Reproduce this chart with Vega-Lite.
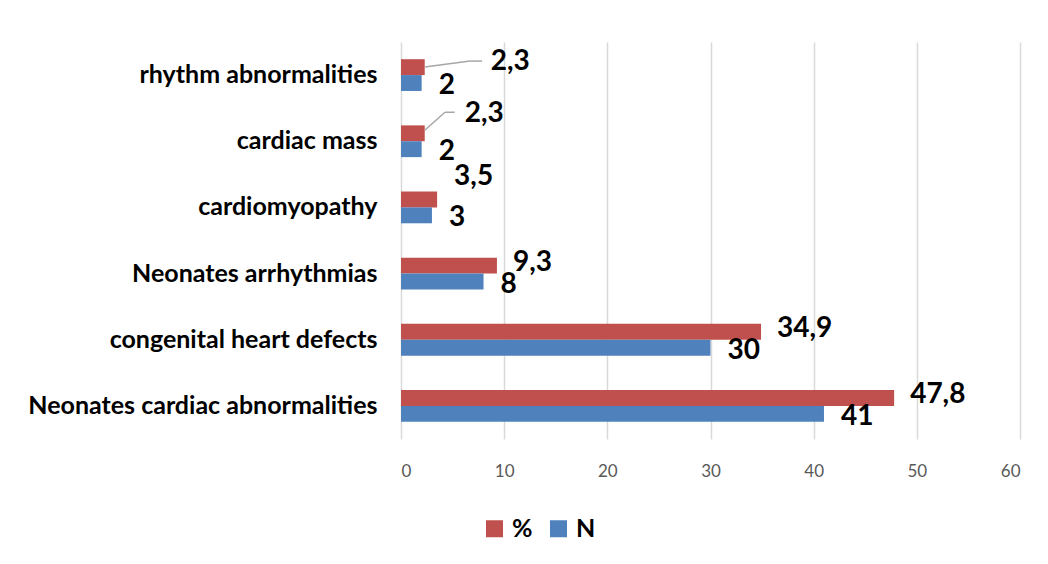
{
  "$schema": "https://vega.github.io/schema/vega-lite/v6.json",
  "width": 619,
  "height": 397,
  "autosize": {"type": "none"},
  "padding": {"left": 401, "top": 42, "right": 28, "bottom": 125},
  "background": "white",
  "data": {
    "values": [
      {"category": "rhythm abnormalities", "series": "%", "value": 2.3},
      {"category": "rhythm abnormalities", "series": "N", "value": 2},
      {"category": "cardiac mass", "series": "%", "value": 2.3},
      {"category": "cardiac mass", "series": "N", "value": 2},
      {"category": "cardiomyopathy", "series": "%", "value": 3.5},
      {"category": "cardiomyopathy", "series": "N", "value": 3},
      {"category": "Neonates arrhythmias", "series": "%", "value": 9.3},
      {"category": "Neonates arrhythmias", "series": "N", "value": 8},
      {"category": "congenital heart defects", "series": "%", "value": 34.9},
      {"category": "congenital heart defects", "series": "N", "value": 30},
      {"category": "Neonates cardiac abnormalities", "series": "%", "value": 47.8},
      {"category": "Neonates cardiac abnormalities", "series": "N", "value": 41}
    ]
  },
  "encoding": {
    "y": {
      "field": "category",
      "type": "nominal",
      "sort": ["rhythm abnormalities", "cardiac mass", "cardiomyopathy", "Neonates arrhythmias", "congenital heart defects", "Neonates cardiac abnormalities"],
      "scale": {"paddingInner": 0.52, "paddingOuter": 0.26},
      "axis": {
        "title": null,
        "domain": false,
        "ticks": false,
        "labelPadding": 24,
        "labelFont": "Lato",
        "labelFontWeight": "bold",
        "labelFontSize": 25,
        "labelColor": "#000000",
        "labelLimit": 400
      }
    },
    "x": {
      "field": "value",
      "type": "quantitative",
      "scale": {"domain": [0, 60], "nice": false},
      "axis": {
        "title": null,
        "values": [0, 10, 20, 30, 40, 50, 60],
        "grid": true,
        "gridColor": "#d9d9d9",
        "gridWidth": 1.5,
        "domain": false,
        "ticks": false,
        "labelPadding": 24,
        "labelFont": "Lato",
        "labelFontSize": 17,
        "labelColor": "#595959",
        "format": "d"
      }
    }
  },
  "layer": [
    {
      "mark": {"type": "bar"},
      "encoding": {
        "yOffset": {"field": "series", "type": "nominal", "sort": ["%", "N"], "scale": {"paddingInner": 0, "paddingOuter": 0}},
        "color": {
          "field": "series",
          "type": "nominal",
          "scale": {"domain": ["%", "N"], "range": ["#C0504D", "#4F81BD"]},
          "legend": {
            "title": null,
            "orient": "none",
            "legendX": 81,
            "legendY": 474,
            "direction": "horizontal",
            "symbolType": "square",
            "symbolSize": 289,
            "symbolStrokeWidth": 0,
            "labelFont": "Lato",
            "labelFontWeight": "bold",
            "labelFontSize": 25,
            "labelColor": "#000000",
            "labelOffset": 5,
            "columnPadding": 13
          }
        }
      }
    },
    {
      "transform": [{"filter": "datum.category === 'rhythm abnormalities' && datum.series === '%'"}],
      "mark": {"type": "rule", "color": "#a6a6a6", "strokeWidth": 1.5, "yOffset": -8, "y2Offset": -14},
      "encoding": {
        "x2": {"datum": 6.7},
        "y2": {"field": "category", "type": "nominal"}
      }
    },
    {
      "transform": [{"filter": "datum.category === 'rhythm abnormalities' && datum.series === '%'"}],
      "mark": {"type": "rule", "color": "#a6a6a6", "strokeWidth": 1.5, "yOffset": -14},
      "encoding": {
        "x": {"datum": 6.7},
        "x2": {"datum": 7.85}
      }
    },
    {
      "transform": [{"filter": "datum.category === 'cardiac mass' && datum.series === '%'"}],
      "mark": {"type": "rule", "color": "#a6a6a6", "strokeWidth": 1.5, "yOffset": -11, "y2Offset": -29},
      "encoding": {
        "x2": {"datum": 4.26},
        "y2": {"field": "category", "type": "nominal"}
      }
    },
    {
      "transform": [{"filter": "datum.category === 'cardiac mass' && datum.series === '%'"}],
      "mark": {"type": "rule", "color": "#a6a6a6", "strokeWidth": 1.5, "yOffset": -29},
      "encoding": {
        "x": {"datum": 4.26},
        "x2": {"datum": 5.2}
      }
    },
    {
      "transform": [{"filter": "datum.series === 'N'"}],
      "mark": {"type": "text", "align": "left", "baseline": "middle", "dx": 17, "dy": 3, "font": "Lato", "fontWeight": "bold", "fontSize": 28, "color": "#000000"},
      "encoding": {
        "yOffset": {"field": "series", "type": "nominal", "sort": ["%", "N"], "scale": {"paddingInner": 0, "paddingOuter": 0}},
        "text": {"field": "value", "type": "quantitative", "format": "~g"}
      }
    },
    {
      "transform": [{"filter": "datum.series === '%' && datum.value > 5"}],
      "mark": {"type": "text", "align": "left", "baseline": "middle", "dx": 16, "dy": -3, "font": "Lato", "fontWeight": "bold", "fontSize": 28, "color": "#000000"},
      "encoding": {
        "yOffset": {"field": "series", "type": "nominal", "sort": ["%", "N"], "scale": {"paddingInner": 0, "paddingOuter": 0}},
        "text": {"field": "value", "type": "quantitative", "format": "~g"}
      }
    },
    {
      "transform": [{"filter": "datum.category === 'cardiomyopathy' && datum.series === '%'"}],
      "mark": {"type": "text", "align": "left", "baseline": "middle", "dx": 17, "dy": -22, "font": "Lato", "fontWeight": "bold", "fontSize": 28, "color": "#000000"},
      "encoding": {
        "yOffset": {"field": "series", "type": "nominal", "sort": ["%", "N"], "scale": {"paddingInner": 0, "paddingOuter": 0}},
        "text": {"field": "value", "type": "quantitative", "format": "~g"}
      }
    },
    {
      "transform": [{"filter": "datum.category === 'cardiac mass' && datum.series === '%'"}],
      "mark": {"type": "text", "align": "left", "baseline": "middle", "dx": 40, "dy": -19, "font": "Lato", "fontWeight": "bold", "fontSize": 28, "color": "#000000"},
      "encoding": {
        "yOffset": {"field": "series", "type": "nominal", "sort": ["%", "N"], "scale": {"paddingInner": 0, "paddingOuter": 0}},
        "text": {"field": "value", "type": "quantitative", "format": "~g"}
      }
    },
    {
      "transform": [{"filter": "datum.category === 'rhythm abnormalities' && datum.series === '%'"}],
      "mark": {"type": "text", "align": "left", "baseline": "middle", "dx": 66, "dy": -5, "font": "Lato", "fontWeight": "bold", "fontSize": 28, "color": "#000000"},
      "encoding": {
        "yOffset": {"field": "series", "type": "nominal", "sort": ["%", "N"], "scale": {"paddingInner": 0, "paddingOuter": 0}},
        "text": {"field": "value", "type": "quantitative", "format": "~g"}
      }
    }
  ],
  "config": {
    "view": {"stroke": null},
    "locale": {"number": {"decimal": ",", "thousands": ".", "grouping": [3], "currency": ["", ""]}}
  }
}
